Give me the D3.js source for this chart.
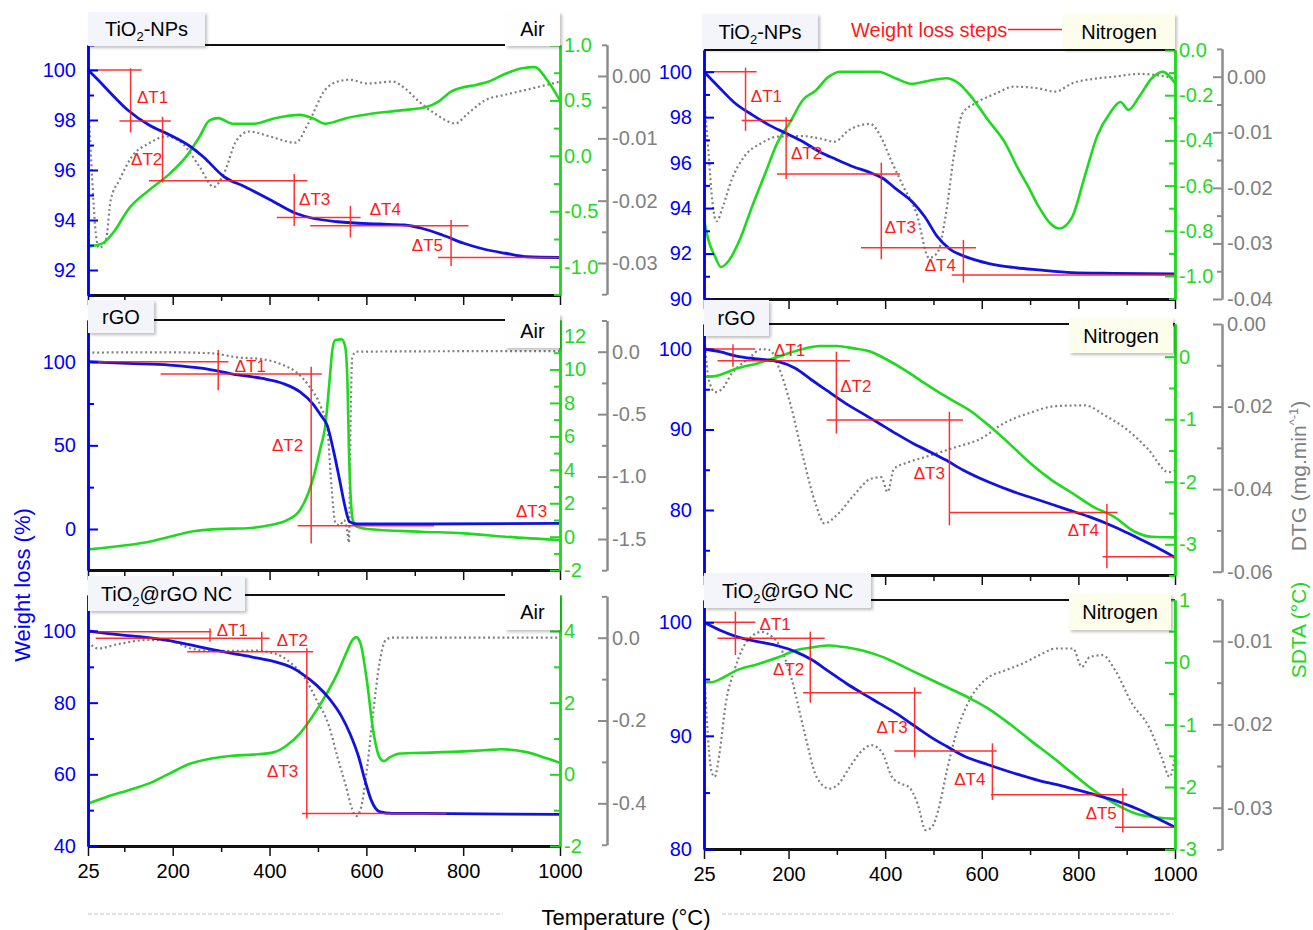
<!DOCTYPE html>
<html><head><meta charset="utf-8">
<script src="https://cdn.jsdelivr.net/npm/d3@7"></script>
<style>body{margin:0;background:#fff}svg{display:block}</style>
</head><body><svg id="c" width="1313" height="930"></svg>
<script>
// ---------------- DATA ----------------
const temperatureTicks = [25, 200, 400, 600, 800, 1000];
const temperatureMinorTicks = [100, 300, 500, 700, 900];

// TiO2-NPs / Air
const tio2AirWeight = [[25,100],[46,99.6],[72,99.07],[107,98.4],[151,97.8],[194,97.4],[237,96.93],[263,96.53],[306,95.73],[349,95.33],[402,94.8],[454,94.27],[489,94.07],[541,93.93],[627,93.84],[679,93.8],[714,93.67],[757,93.4],[801,93.07],[844,92.83],[887,92.67],[931,92.53],[1000,92.5]];
const tio2AirSdta = [[25,-0.82],[55,-0.79],[81,-0.67],[107,-0.49],[151,-0.31],[194,-0.16],[229,0.0],[255,0.17],[276,0.32],[294,0.34],[324,0.29],[367,0.29],[411,0.34],[463,0.37],[489,0.34],[515,0.29],[558,0.34],[610,0.38],[671,0.41],[723,0.44],[749,0.49],[775,0.58],[801,0.62],[827,0.64],[853,0.67],[887,0.74],[922,0.79],[948,0.80],[974,0.68],[1000,0.50]];
const tio2AirDtg = [[26,-0.0049],[33,-0.0156],[41,-0.0252],[48,-0.0276],[62,-0.0263],[72,-0.0199],[90,-0.0167],[116,-0.0129],[151,-0.0108],[186,-0.0097],[220,-0.0108],[255,-0.0145],[285,-0.0178],[306,-0.0156],[332,-0.0103],[358,-0.0089],[401,-0.0097],[454,-0.0107],[480,-0.0076],[515,-0.0022],[540,-0.0009],[566,-0.0006],[601,-0.0012],[654,-0.0009],[680,-0.002],[706,-0.0039],[741,-0.006],[784,-0.0076],[810,-0.006],[845,-0.0039],[887,-0.003],[931,-0.0022],[974,-0.0014],[1000,-0.0009]];
const tio2AirStepH = [[100,25,136],[97.96,90,196],[95.57,151,478],[94.1,415,588],[93.77,484,811],[92.5,748,1000]];
const tio2AirStepV = [[113,100.07,97.5],[179,98.13,95.5],[451,95.84,93.76],[567,94.56,93.3],[775,94.0,92.16]];
const tio2AirStepLabels = [["ΔT1",126,98.93],["ΔT2",114,96.43],["ΔT3",461,94.84],["ΔT4",607,94.44],["ΔT5",694,93.0]];

// TiO2-NPs / Nitrogen
const tio2N2Weight = [[25,100],[55,99.34],[90,98.6],[125,98.1],[160,97.65],[195,97.29],[230,96.92],[264,96.48],[299,96.14],[334,95.82],[369,95.56],[395,95.31],[421,94.87],[456,94.28],[482,93.62],[508,92.74],[534,92.19],[569,91.84],[613,91.57],[665,91.39],[717,91.28],[787,91.16],[874,91.13],[1000,91.1]];
const tio2N2Sdta = [[25,-0.75],[34,-0.84],[47,-0.91],[60,-0.96],[77,-0.93],[99,-0.84],[125,-0.69],[151,-0.55],[177,-0.41],[203,-0.32],[230,-0.22],[256,-0.18],[282,-0.12],[308,-0.096],[351,-0.096],[386,-0.096],[421,-0.125],[456,-0.15],[491,-0.136],[526,-0.125],[552,-0.147],[578,-0.206],[613,-0.31],[648,-0.41],[674,-0.52],[695,-0.6],[717,-0.69],[743,-0.77],[761,-0.79],[787,-0.74],[813,-0.56],[839,-0.38],[865,-0.28],[887,-0.23],[904,-0.265],[926,-0.206],[952,-0.125],[974,-0.096],[1000,-0.147]];
const tio2N2Dtg = [[25,-0.0036],[34,-0.0132],[42,-0.0222],[51,-0.026],[64,-0.0234],[82,-0.0186],[108,-0.0144],[143,-0.012],[177,-0.0108],[230,-0.0107],[264,-0.0111],[295,-0.0117],[325,-0.0096],[369,-0.0085],[391,-0.0108],[412,-0.015],[438,-0.0198],[465,-0.0246],[491,-0.0326],[508,-0.0317],[526,-0.0246],[543,-0.0138],[560,-0.0066],[586,-0.0048],[630,-0.003],[665,-0.0018],[717,-0.0021],[752,-0.0027],[787,-0.0012],[839,-0.0003],[874,0.0],[926,0.0005],[961,0.0003],[1000,-0.0003]];
const tio2N2StepH = [[100,25,134],[97.85,103,208],[95.5,176,431],[92.26,350,588],[91.06,538,1000]];
const tio2N2StepV = [[111,100.18,97.4],[195,98.0,95.28],[392,96.0,91.75],[562,92.6,90.72]];
const tio2N2StepLabels = [["ΔT1",122,98.94],["ΔT2",205,96.41],["ΔT3",399,93.19],["ΔT4",482,91.5]];

// rGO / Air
const rgoAirWeight = [[25,100],[107,99],[194,98],[263,96],[324,92.6],[385,90],[428,87],[463,82],[489,75],[506,68],[519,62],[532,47],[545,29],[556,13.3],[565,4.4],[580,3],[714,3],[1000,3.4]];
const rgoAirSdta = [[25,-0.76],[107,-0.5],[151,-0.3],[194,0],[237,0.3],[281,0.44],[324,0.48],[367,0.54],[402,0.7],[437,1.0],[463,1.6],[480,2.6],[493,3.8],[506,5.4],[515,6.6],[523,9.0],[530,11.2],[536,11.76],[549,11.8],[556,11.4],[561,9.2],[564,5.2],[568,2.2],[572,1.0],[580,0.6],[601,0.46],[714,0.3],[801,0.2],[887,0.0],[1000,-0.2]];
const rgoAirDtg = [[34,-0.008],[107,-0.005],[194,-0.005],[281,-0.013],[333,-0.045],[385,-0.06],[428,-0.107],[454,-0.16],[480,-0.267],[506,-0.44],[519,-0.6],[528,-1.08],[536,-1.37],[545,-1.39],[554,-1.35],[561,-1.45],[564,-1.53],[567,-0.65],[571,-0.04],[580,0],[800,0.004],[1000,0.005]];
const rgoAirStepH = [[100,25,315],[92.6,175,508],[2,458,740]];
const rgoAirStepV = [[294,107,83],[486,97,-8.6]];
const rgoAirStepLabels = [["ΔT1",328,97.6],["ΔT2",405,50.2],["ΔT3",909,11]];

// rGO / Nitrogen
const rgoN2Weight = [[25,100],[57,99.67],[92,99.13],[135,98.76],[179,98.43],[214,97.6],[248,96.15],[283,94.7],[318,93.25],[353,92.0],[387,90.77],[422,89.5],[457,88.3],[492,87.25],[526,86.2],[561,84.97],[613,83.5],[665,82.28],[718,81.24],[770,80.2],[822,79.17],[874,77.93],[917,76.7],[961,75.4],[1000,74.1]];
const rgoN2Sdta = [[25,-0.32],[48,-0.31],[66,-0.27],[92,-0.19],[135,-0.107],[179,0],[222,0.107],[266,0.17],[300,0.17],[335,0.133],[370,0.08],[405,-0.053],[440,-0.21],[483,-0.43],[526,-0.64],[579,-0.88],[613,-1.09],[657,-1.39],[700,-1.7],[744,-1.97],[787,-2.18],[831,-2.4],[874,-2.56],[917,-2.8],[952,-2.88],[1000,-2.89]];
const rgoN2Dtg = [[27,-0.0054],[35,-0.0135],[48,-0.0165],[61,-0.0159],[83,-0.0119],[118,-0.0083],[144,-0.0061],[161,-0.0063],[179,-0.0103],[205,-0.0199],[231,-0.0327],[257,-0.0439],[274,-0.0483],[300,-0.0463],[335,-0.0415],[370,-0.0375],[392,-0.0371],[405,-0.0407],[418,-0.0351],[448,-0.0335],[492,-0.0319],[544,-0.0299],[596,-0.0279],[648,-0.0239],[700,-0.0215],[752,-0.0199],[813,-0.0197],[857,-0.0223],[900,-0.0255],[944,-0.0303],[987,-0.0359],[1000,-0.0355]];
const rgoN2StepH = [[100,25,131],[98.55,53,327],[91.18,279,561],[79.7,533,881],[74.2,850,1000]];
const rgoN2StepV = [[85,100.6,97.8],[299,99.67,89.5],[533,92.2,78.1],[859,80.75,72.75]];
const rgoN2StepLabels = [["ΔT1",170,99.9],["ΔT2",307,95.4],["ΔT3",459,84.6],["ΔT4",778,77.5]];

// TiO2@rGO NC / Air
const ncAirWeight = [[25,100],[63,99.35],[107,98.7],[150,98.14],[193,97.3],[237,96.1],[280,94.9],[323,93.77],[367,92.65],[410,91.44],[445,89.86],[471,87.7],[497,84.9],[523,81.2],[549,76.1],[566,71.4],[584,64.9],[597,58.4],[610,52.8],[627,49.6],[653,49.1],[714,49.1],[1000,48.8]];
const ncAirSdta = [[25,-0.82],[63,-0.63],[107,-0.45],[150,-0.26],[193,0.02],[237,0.3],[280,0.44],[323,0.52],[367,0.55],[410,0.62],[436,0.81],[462,1.13],[488,1.6],[514,2.16],[540,2.81],[558,3.37],[571,3.74],[579,3.83],[588,3.65],[601,2.62],[614,1.23],[627,0.48],[636,0.37],[649,0.48],[670,0.58],[714,0.6],[801,0.64],[844,0.67],[879,0.7],[931,0.62],[974,0.44],[1000,0.32]];
const ncAirDtg = [[25,-0.0096],[46,-0.026],[89,-0.015],[150,-0.0056],[193,-0.007],[237,-0.026],[280,-0.032],[323,-0.032],[367,-0.031],[410,-0.038],[445,-0.062],[471,-0.094],[497,-0.15],[523,-0.214],[540,-0.287],[558,-0.359],[571,-0.415],[579,-0.431],[588,-0.415],[601,-0.319],[614,-0.182],[627,-0.062],[640,-0.0056],[653,0],[1000,0]];
const ncAirStepH = [[99.8,25,280],[97.95,41,400],[94.2,230,490],[49.1,467,766]];
const ncAirStepV = [[277,100.7,97.0],[384,99.8,94.2],[477,95.2,47.7]];
const ncAirStepLabels = [["ΔT1",291,100.3],["ΔT2",415,97.5],["ΔT3",395,61.1]];

// TiO2@rGO NC / Nitrogen
const ncN2Weight = [[25,100],[57,99.32],[92,98.74],[136,98.3],[179,97.91],[214,97.42],[249,96.68],[284,95.65],[319,94.63],[353,93.74],[388,92.86],[423,91.98],[458,90.95],[493,89.93],[528,89.05],[563,88.22],[615,87.43],[667,86.7],[719,86.05],[772,85.52],[824,84.93],[876,84.29],[920,83.6],[963,82.73],[1000,81.94]];
const ncN2Sdta = [[25,-0.32],[40,-0.32],[66,-0.24],[92,-0.13],[136,-0.03],[179,0.08],[214,0.19],[249,0.24],[284,0.27],[310,0.25],[353,0.19],[397,0.08],[441,-0.08],[484,-0.24],[528,-0.4],[571,-0.56],[615,-0.75],[658,-0.99],[702,-1.26],[746,-1.52],[789,-1.79],[833,-2.06],[876,-2.27],[920,-2.43],[963,-2.49],[1000,-2.51]];
const ncN2Dtg = [[25,-0.0127],[31,-0.0195],[40,-0.0255],[47,-0.0263],[57,-0.0235],[70,-0.0175],[88,-0.0135],[105,-0.0109],[127,-0.0093],[144,-0.0089],[166,-0.0095],[179,-0.0103],[205,-0.0143],[232,-0.0207],[258,-0.0263],[284,-0.0277],[301,-0.0273],[327,-0.0251],[353,-0.0231],[371,-0.0225],[393,-0.0233],[414,-0.0263],[432,-0.0271],[449,-0.0275],[467,-0.0295],[484,-0.0327],[497,-0.0323],[510,-0.0303],[528,-0.0255],[545,-0.0215],[571,-0.0175],[606,-0.0147],[650,-0.0135],[685,-0.0127],[719,-0.0117],[754,-0.0109],[789,-0.0109],[807,-0.0131],[824,-0.0119],[850,-0.0117],[876,-0.0135],[911,-0.0175],[946,-0.0203],[972,-0.0239],[989,-0.0263],[1000,-0.0239]];
const ncN2StepH = [[100,25,131],[98.6,53,275],[93.8,230,475],[88.66,419,631],[84.8,619,901],[81.94,876,1000]];
const ncN2StepV = [[90,100.94,97.12],[245,99.18,92.92],[461,94.27,88.1],[622,89.34,84.35],[892,85.37,81.47]];
const ncN2StepLabels = [["ΔT1",140,99.9],["ΔT2",168,95.86],["ΔT3",382,90.8],["ΔT4",543,86.2],["ΔT5",815,83.17]];

// ---------------- DRAWING ----------------
const FONT = '"Liberation Sans", Arial, Helvetica, sans-serif';
const COL = {blue:'#0000ff', blueLine:'#1212e0', green:'#1fd91f', gray:'#808080', grayAxis:'#8c8c8c', red:'#ff1a1a'};
const svg = d3.select('#c');
svg.append('rect').attr('width',1313).attr('height',930).attr('fill','#fff');
svg.append('defs').append('filter').attr('id','sh').attr('x','-20%').attr('y','-20%').attr('width','150%').attr('height','170%')
  .append('feDropShadow').attr('dx',2).attr('dy',2).attr('stdDeviation',1.6).attr('flood-color','#000').attr('flood-opacity',0.25);

const hy = f => v => d3.format(f)(v).replace('\u2212','-');

const panels = [
  {weight:tio2AirWeight, sdta:tio2AirSdta, dtg:tio2AirDtg, stepH:tio2AirStepH, stepV:tio2AirStepV, stepL:tio2AirStepLabels,
   x0:88,x1:560,top:45,bottom:295,grayX:607,xLabels:false,
   wA:[[100,92],[70,270]], wMaj:[92,94,96,98,100], wMin:[91,93,95,97,99,101], wFmt:'d',
   gA:[[1,-1],[45,266.7]], gMaj:[-1,-0.5,0,0.5,1], gMin:[-1.25,-0.75,-0.25,0.25,0.75], gFmt:'.1f',
   dA:[[0,-0.03],[76,263]], dEnds:[0.005,-0.035], dMaj:[0,-0.01,-0.02,-0.03], dMin:[0.005,-0.005,-0.015,-0.025,-0.035], dFmt:'.2f',
   title:['TiO','2','-NPs'], tBox:[88,12,117,34], cond:'Air', cBox:[505,12,55,34], cFill:'#fefefe'},
  {weight:rgoAirWeight, sdta:rgoAirSdta, dtg:rgoAirDtg, stepH:rgoAirStepH, stepV:rgoAirStepV, stepL:rgoAirStepLabels,
   x0:88,x1:560,top:320,bottom:570,grayX:607,xLabels:false,
   wA:[[100,0],[361.7,529]], wMaj:[0,50,100], wMin:[25,75], wFmt:'d',
   gA:[[12,0],[336,536.7]], gMaj:[-2,0,2,4,6,8,10,12], gMin:[-1,1,3,5,7,9,11], gFmt:'d',
   dA:[[0,-1.5],[351.7,539]], dEnds:[0.25,-1.75], dMaj:[0,-0.5,-1,-1.5], dMin:[0.25,-0.25,-0.75,-1.25,-1.75], dFmt:'.1f',
   title:['rGO'], tBox:[88,300,66,33], cond:'Air', cBox:[505,314,55,34], cFill:'#fefefe'},
  {weight:ncAirWeight, sdta:ncAirSdta, dtg:ncAirDtg, stepH:ncAirStepH, stepV:ncAirStepV, stepL:ncAirStepLabels,
   x0:88,x1:560,top:595,bottom:846,grayX:607,xLabels:true,
   wA:[[100,40],[631,846]], wMaj:[40,60,80,100], wMin:[50,70,90,110], wFmt:'d',
   gA:[[4,-2],[631,846]], gMaj:[-2,0,2,4], gMin:[-1,1,3,5], gFmt:'d',
   dA:[[0,-0.4],[637.7,803.3]], dEnds:[0.1,-0.5], dMaj:[0,-0.2,-0.4], dMin:[0.1,-0.1,-0.3,-0.5], dFmt:'.1f',
   title:['TiO','2','@rGO NC'], tBox:[88,576,157,35], cond:'Air', cBox:[505,594,55,36], cFill:'#fefefe'},
  {weight:tio2N2Weight, sdta:tio2N2Sdta, dtg:tio2N2Dtg, stepH:tio2N2StepH, stepV:tio2N2StepV, stepL:tio2N2StepLabels,
   x0:704,x1:1175,top:50,bottom:299,grayX:1222,xLabels:false,
   wA:[[100,90],[71.7,299]], wMaj:[90,92,94,96,98,100], wMin:[91,93,95,97,99], wFmt:'d',
   gA:[[0,-1],[50,276]], gMaj:[-1,-0.8,-0.6,-0.4,-0.2,0], gMin:[-1.1,-0.9,-0.7,-0.5,-0.3,-0.1], gFmt:'.1f',
   dA:[[0,-0.04],[76.7,299]], dEnds:[0.005,-0.04], dMaj:[0,-0.01,-0.02,-0.03,-0.04], dMin:[0.005,-0.005,-0.015,-0.025,-0.035], dFmt:'.2f',
   title:['TiO','2','-NPs'], tBox:[702,14,116,35], cond:'Nitrogen', cBox:[1063,14,112,35], cFill:'#fdfdec'},
  {weight:rgoN2Weight, sdta:rgoN2Sdta, dtg:rgoN2Dtg, stepH:rgoN2StepH, stepV:rgoN2StepV, stepL:rgoN2StepLabels,
   x0:704,x1:1175,top:324,bottom:575,grayX:1222,xLabels:false,
   wA:[[100,80],[349,510]], wMaj:[80,90,100], wMin:[75,85,95], wFmt:'d',
   gA:[[0,-3],[356.7,544.3]], gMaj:[-3,-2,-1,0], gMin:[-3.5,-2.5,-1.5,-0.5,0.5], gFmt:'d',
   dA:[[0,-0.06],[324,571.7]], dEnds:[0,-0.06], dMaj:[0,-0.02,-0.04,-0.06], dMin:[-0.01,-0.03,-0.05], dFmt:'.2f',
   title:['rGO'], tBox:[704,300,65,36], cond:'Nitrogen', cBox:[1069,318,104,35], cFill:'#fdfdec'},
  {weight:ncN2Weight, sdta:ncN2Sdta, dtg:ncN2Dtg, stepH:ncN2StepH, stepV:ncN2StepV, stepL:ncN2StepLabels,
   x0:704,x1:1175,top:600,bottom:849,grayX:1222,xLabels:true,
   wA:[[100,80],[622.3,849.3]], wMaj:[80,90,100], wMin:[85,95], wFmt:'d',
   gA:[[1,-3],[600,849.3]], gMaj:[-3,-2,-1,0,1], gMin:[-2.5,-1.5,-0.5,0.5], gFmt:'d',
   dA:[[-0.01,-0.03],[641,807.7]], dEnds:[-0.005,-0.035], dMaj:[-0.01,-0.02,-0.03], dMin:[-0.005,-0.015,-0.025,-0.035], dFmt:'.2f',
   title:['TiO','2','@rGO NC'], tBox:[704,573,167,35], cond:'Nitrogen', cBox:[1069,594,102,36], cFill:'#fdfdec'}
];

function styleAxis(sel, color, lineW, tickW, size, textColor) {
  sel.attr('font-family', FONT).attr('font-size', size);
  sel.select('.domain').attr('stroke', color).attr('stroke-width', lineW);
  sel.selectAll('.tick line').attr('stroke', color).attr('stroke-width', tickW);
  sel.selectAll('.tick text').attr('fill', textColor || color);
}

function drawPanel(p) {
  const g = svg.append('g');
  const x = d3.scaleLinear().domain([25, 1000]).range([p.x0, p.x1]);
  const wa = d3.scaleLinear().domain(p.wA[0]).range(p.wA[1]);
  const yW = d3.scaleLinear().domain([wa.invert(p.bottom), wa.invert(p.top)]).range([p.bottom, p.top]);
  const ga = d3.scaleLinear().domain(p.gA[0]).range(p.gA[1]);
  const yG = d3.scaleLinear().domain([ga.invert(p.bottom), ga.invert(p.top)]).range([p.bottom, p.top]);
  const da = d3.scaleLinear().domain(p.dA[0]).range(p.dA[1]);
  const yD = d3.scaleLinear().domain(p.dEnds).range(p.dEnds.map(da));

  const mk = (ys) => d3.line().x(d => x(d[0])).y(d => ys(d[1])).curve(d3.curveMonotoneX);

  // DTG dotted
  g.append('path').datum(p.dtg).attr('d', mk(yD)).attr('fill','none')
    .attr('stroke', COL.gray).attr('stroke-width', 2.2).attr('stroke-dasharray','2,2.8');
  // SDTA
  g.append('path').datum(p.sdta).attr('d', mk(yG)).attr('fill','none')
    .attr('stroke', COL.green).attr('stroke-width', 2.6).attr('stroke-linejoin','round');
  // Weight
  g.append('path').datum(p.weight).attr('d', mk(yW)).attr('fill','none')
    .attr('stroke', COL.blueLine).attr('stroke-width', 2.8).attr('stroke-linejoin','round');

  // weight loss steps
  const r = g.append('g').attr('stroke', COL.red).attr('stroke-width', 1.5).attr('opacity', 0.9);
  r.selectAll('.h').data(p.stepH).join('line')
    .attr('x1', d => x(d[1])).attr('x2', d => x(d[2])).attr('y1', d => yW(d[0])).attr('y2', d => yW(d[0]));
  r.selectAll('.v').data(p.stepV).join('line')
    .attr('x1', d => x(d[0])).attr('x2', d => x(d[0])).attr('y1', d => yW(d[1])).attr('y2', d => yW(d[2]));
  g.selectAll('.sl').data(p.stepL).join('text')
    .attr('x', d => x(d[1])).attr('y', d => yW(d[2])).attr('dy','0.36em')
    .attr('font-family', FONT).attr('font-size', 17).attr('fill', COL.red).text(d => d[0]);

  // top border
  g.append('line').attr('x1', p.x0).attr('x2', p.x1).attr('y1', p.top).attr('y2', p.top)
    .attr('stroke', '#111').attr('stroke-width', 2);

  // x axis (minor, major)
  const xm = g.append('g').attr('transform', `translate(0,${p.bottom})`)
    .call(d3.axisBottom(x).tickValues(temperatureMinorTicks).tickSize(6).tickSizeOuter(0).tickFormat(''));
  styleAxis(xm, '#111', 3, 1.5, 20);
  const xM = g.append('g').attr('transform', `translate(0,${p.bottom})`)
    .call(d3.axisBottom(x).tickValues(temperatureTicks).tickSize(10).tickSizeOuter(0).tickPadding(8)
      .tickFormat(p.xLabels ? d3.format('d') : ''));
  styleAxis(xM, '#111', 3, 1.5, 20, '#000');

  // blue left axis
  const bm = g.append('g').attr('transform', `translate(${p.x0},0)`)
    .call(d3.axisLeft(yW).tickValues(p.wMin).tickSize(-6).tickSizeOuter(0).tickFormat(''));
  styleAxis(bm, COL.blue, 2.5, 2, 20);
  const bM = g.append('g').attr('transform', `translate(${p.x0},0)`)
    .call(d3.axisLeft(yW).tickValues(p.wMaj).tickSize(-10).tickSizeOuter(0).tickPadding(12).tickFormat(hy(p.wFmt)));
  styleAxis(bM, COL.blue, 2.5, 2, 20);

  // green right axis
  const gm = g.append('g').attr('transform', `translate(${p.x1},0)`)
    .call(d3.axisRight(yG).tickValues(p.gMin).tickSize(-6).tickSizeOuter(0).tickFormat(''));
  styleAxis(gm, COL.green, 2.5, 2, 20);
  const gM = g.append('g').attr('transform', `translate(${p.x1},0)`)
    .call(d3.axisRight(yG).tickValues(p.gMaj).tickSize(-10).tickSizeOuter(0).tickPadding(4).tickFormat(hy(p.gFmt)));
  styleAxis(gM, COL.green, 2.5, 2, 20);

  // gray DTG axis
  const dm = g.append('g').attr('transform', `translate(${p.grayX},0)`)
    .call(d3.axisRight(yD).tickValues(p.dMin).tickSize(-5).tickSizeOuter(0).tickFormat(''));
  styleAxis(dm, COL.grayAxis, 2, 2, 20);
  const dM = g.append('g').attr('transform', `translate(${p.grayX},0)`)
    .call(d3.axisRight(yD).tickValues(p.dMaj).tickSize(-9).tickSizeOuter(0).tickPadding(5).tickFormat(hy(p.dFmt)));
  styleAxis(dM, COL.grayAxis, 2, 2, 20, COL.gray);

  // boxes
  const tb = p.tBox;
  g.append('rect').attr('x', tb[0]).attr('y', tb[1]).attr('width', tb[2]).attr('height', tb[3])
    .attr('fill', '#f4f5fa').attr('filter', 'url(#sh)');
  const tt = g.append('text').attr('x', tb[0] + tb[2] / 2).attr('y', tb[1] + tb[3] / 2 + 7)
    .attr('text-anchor', 'middle').attr('font-family', FONT).attr('font-size', 20).attr('fill', '#000');
  if (p.title.length === 1) tt.text(p.title[0]);
  else {
    tt.append('tspan').text(p.title[0]);
    tt.append('tspan').attr('dy', 5).attr('font-size', 13).text(p.title[1]);
    tt.append('tspan').attr('dy', -5).text(p.title[2]);
  }
  const cb = p.cBox;
  g.append('rect').attr('x', cb[0]).attr('y', cb[1]).attr('width', cb[2]).attr('height', cb[3])
    .attr('fill', p.cFill).attr('filter', 'url(#sh)');
  g.append('text').attr('x', cb[0] + cb[2] / 2).attr('y', cb[1] + cb[3] / 2 + 7)
    .attr('text-anchor', 'middle').attr('font-family', FONT).attr('font-size', 20).attr('fill', '#000').text(p.cond);
}

panels.forEach(drawPanel);

// legend "Weight loss steps"
svg.append('line').attr('x1', 1008).attr('x2', 1062).attr('y1', 29.5).attr('y2', 29.5)
  .attr('stroke', COL.red).attr('stroke-width', 1.5);
svg.append('text').attr('x', 851).attr('y', 36.5).attr('font-family', FONT).attr('font-size', 20)
  .attr('fill', COL.red).text('Weight loss steps');

// axis titles
svg.append('text').attr('transform', 'translate(22,585) rotate(-90)').attr('text-anchor', 'middle')
  .attr('dy', '0.36em').attr('font-family', FONT).attr('font-size', 22).attr('fill', COL.blue).text('Weight loss (%)');
const dt = svg.append('text').attr('transform', 'translate(1298,476) rotate(-90)').attr('text-anchor', 'middle')
  .attr('dy', '0.36em').attr('font-family', FONT).attr('font-size', 21).attr('fill', COL.gray);
dt.append('tspan').text('DTG (mg.min');
dt.append('tspan').attr('dy', -8).attr('font-size', 13).text('^-1');
dt.append('tspan').attr('dy', 8).text(')');
svg.append('text').attr('transform', 'translate(1298,630) rotate(-90)').attr('text-anchor', 'middle')
  .attr('dy', '0.36em').attr('font-family', FONT).attr('font-size', 21).attr('fill', COL.green).text('SDTA (°C)');

svg.append('text').attr('x', 626).attr('y', 917).attr('dy', '0.36em').attr('text-anchor', 'middle')
  .attr('font-family', FONT).attr('font-size', 22).attr('fill', '#000').text('Temperature (°C)');
svg.append('line').attr('x1', 88).attr('x2', 503).attr('y1', 914).attr('y2', 914)
  .attr('stroke', '#c4c4c4').attr('stroke-width', 1).attr('stroke-dasharray', '4,2');
svg.append('line').attr('x1', 722).attr('x2', 1173).attr('y1', 914).attr('y2', 914)
  .attr('stroke', '#c4c4c4').attr('stroke-width', 1).attr('stroke-dasharray', '4,2');
</script></body></html>
